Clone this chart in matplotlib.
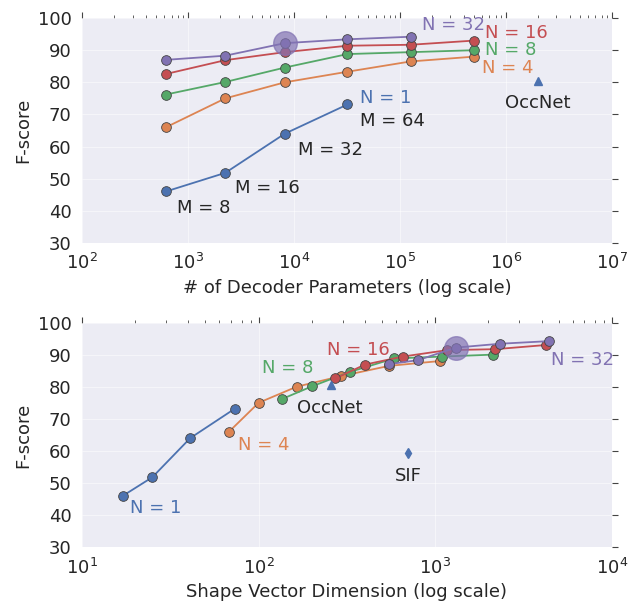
import numpy as np
import matplotlib.pyplot as plt
import seaborn as sns

# F-scores per number of parts N, over decoder width M = 8, 16, 32, 64, 128, 256
n_labels = ["N = 1", "N = 4", "N = 8", "N = 16", "N = 32"]
colors = ["#4C72B0", "#DD8452", "#55A868", "#C44E52", "#8172B2"]

fscore_n1 = [46.0, 51.8, 64.0, 73.1]
fscore_n4 = [66.0, 75.0, 80.0, 83.3, 86.5, 88.0]
fscore_n8 = [76.2, 80.1, 84.6, 88.8, 89.4, 90.0]
fscore_n16 = [82.6, 86.9, 89.4, 91.4, 91.7, 93.0]
fscore_n32 = [87.0, 88.3, 92.2, 93.4, 94.2]

# decoder parameter counts (top panel)
params_n1 = [620, 2250, 8200, 32000]
params_all = [620, 2250, 8200, 32000, 126000, 500000]
params_n32 = [620, 2250, 8200, 32000, 126000]

# shape vector dimensions (bottom panel)
dim_n1 = [17, 25, 41, 73]
dim_n4 = [68, 100, 164, 292, 548, 1060]
dim_n8 = [136, 200, 328, 584, 1096, 2120]
dim_n16 = [272, 400, 656, 1168, 2192, 4240]
dim_n32 = [544, 800, 1312, 2336, 4384]

m_labels = ["M = 8", "M = 16", "M = 32", "M = 64"]

# baselines
occnet_params = 2.0e6
occnet_dim = 256
occnet_fscore = 80.5
sif_dim = 700
sif_fscore = 59.3

# highlighted configuration (N = 32, M = 32)
best_params = 8200
best_dim = 1312
best_fscore = 92.2

top_x = [params_n1, params_all, params_all, params_all, params_n32]
bot_x = [dim_n1, dim_n4, dim_n8, dim_n16, dim_n32]
ys = [fscore_n1, fscore_n4, fscore_n8, fscore_n16, fscore_n32]

sns.set_style("darkgrid", {"axes.facecolor": "#ECECF4"})
plt.rcParams["font.family"] = ["DejaVu Sans"]

fig = plt.figure(figsize=(6.36, 6.04), dpi=100)
ax1 = fig.add_axes([0.129, 0.598, 0.833, 0.372])
ax2 = fig.add_axes([0.129, 0.094, 0.833, 0.372])

txt = "#262626"
fs = 13

for ax, xs in ((ax1, top_x), (ax2, bot_x)):
    for x, y, c in zip(xs, ys, colors):
        ax.plot(x, y, "-o", color=c, lw=1.3, ms=7, mec="#444444", mew=0.6, zorder=3)
    ax.set_xscale("log")
    ax.set_ylim(30, 100)
    ax.set_yticks(range(30, 101, 10))
    ax.set_ylabel("F-score", fontsize=fs, color=txt)
    ax.grid(True, which="major", color="white", lw=0.6, alpha=0.6)
    ax.grid(False, which="minor")
    for s in ax.spines.values():
        s.set_visible(False)
    ax.tick_params(which="both", direction="out", top=True, right=True,
                   color="#444444", labelsize=fs, labelcolor=txt)
    ax.tick_params(which="major", length=4, width=0.8)
    ax.tick_params(which="minor", length=2.5, width=0.6)

# top panel
ax1.set_xlim(1e2, 1e7)
ax1.set_xlabel("# of Decoder Parameters (log scale)", fontsize=fs, color=txt)
ax1.plot(best_params, best_fscore, "o", color=colors[4], ms=17, alpha=0.7, zorder=4)
ax1.plot(occnet_params, occnet_fscore, "^", color=colors[0], ms=6, zorder=3)
ax1.text(occnet_params, 73.6, "OccNet", ha="center", va="center", fontsize=fs, color=txt)

ax1.text(1.6e5, 97.9, n_labels[4], color=colors[4], fontsize=fs, ha="left", va="center")
ax1.text(6.3e5, 95.4, n_labels[3], color=colors[3], fontsize=fs, ha="left", va="center")
ax1.text(6.3e5, 90.1, n_labels[2], color=colors[2], fontsize=fs, ha="left", va="center")
ax1.text(5.9e5, 84.4, n_labels[1], color=colors[1], fontsize=fs, ha="left", va="center")
ax1.text(4.2e4, 75.0, n_labels[0], color=colors[0], fontsize=fs, ha="left", va="center")

m_label_x = [790, 2780, 1.1e4, 4.2e4]
m_label_y = [40.8, 47.1, 58.9, 67.8]
for x, y, lab in zip(m_label_x, m_label_y, m_labels):
    ax1.text(x, y, lab, color=txt, fontsize=fs, ha="left", va="center")

# bottom panel
ax2.set_xlim(1e1, 1e4)
ax2.set_xlabel("Shape Vector Dimension (log scale)", fontsize=fs, color=txt)
ax2.plot(best_dim, best_fscore, "o", color=colors[4], ms=17, alpha=0.7, zorder=4)
ax2.plot(occnet_dim, occnet_fscore, "^", color=colors[0], ms=6, zorder=3)
ax2.text(252, 73.3, "OccNet", ha="center", va="center", fontsize=fs, color=txt)
ax2.plot(sif_dim, sif_fscore, "d", color=colors[0], ms=5, zorder=3)
ax2.text(sif_dim, 52.2, "SIF", ha="center", va="center", fontsize=fs, color=txt)

ax2.text(4.5e3, 88.3, n_labels[4], color=colors[4], fontsize=fs, ha="left", va="center")
ax2.text(243, 91.5, n_labels[3], color=colors[3], fontsize=fs, ha="left", va="center")
ax2.text(104, 85.8, n_labels[2], color=colors[2], fontsize=fs, ha="left", va="center")
ax2.text(76, 61.9, n_labels[1], color=colors[1], fontsize=fs, ha="left", va="center")
ax2.text(18.7, 42.2, n_labels[0], color=colors[0], fontsize=fs, ha="left", va="center")

fig.savefig("out.png", dpi=100)
